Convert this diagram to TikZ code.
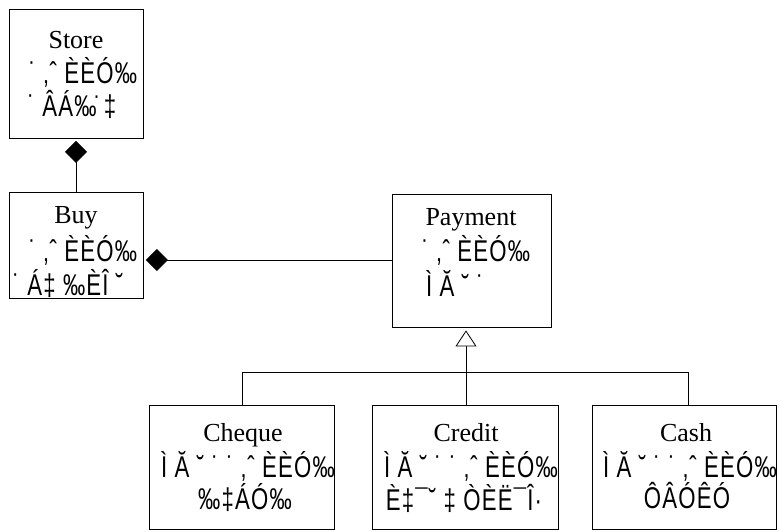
\documentclass[tikz,border=0pt]{standalone}
\usepackage{fontspec}
\setmainfont{Liberation Serif}
\newfontfamily\garb[FakeStretch=0.74,LetterSpace=4]{Liberation Sans}
\usetikzlibrary{arrows.meta}
\tikzset{
  box/.style={draw, line width=0.8pt, inner sep=0pt},
  ttl/.style={font=\fontsize{26}{26}\selectfont, inner sep=0pt},
  gb/.style={font=\garb\fontsize{30}{30}\selectfont, inner sep=0pt},
  conn/.style={line width=0.8pt},
  dia/.style={{Diamond[length=22pt,width=22pt,fill=black]}-, shorten <=2.5pt},
}
\begin{document}
\begin{tikzpicture}[x=1pt,y=-1pt]
\useasboundingbox (0,0) rectangle (780,531);
% boxes
\node[box, minimum width=134pt, minimum height=129pt] (store) at (76,73.5) {};
\node[box, minimum width=134pt, minimum height=106pt] (buy) at (76,245) {};
\node[box, minimum width=159pt, minimum height=133pt] (pay) at (471.5,260.5) {};
\node[box, minimum width=185pt, minimum height=124pt] (cheque) at (241.5,467) {};
\node[box, minimum width=186pt, minimum height=124pt] (credit) at (465,467) {};
\node[box, minimum width=184pt, minimum height=124pt] (cash) at (684,467) {};
% texts
\node[ttl] (t1) at (76,40) {Store};
\node[gb] (t1a) at (83,72) {˙ ‚ˆ ÈÈÓ‰};
\node[gb] (t1b) at (72,104) {˙ ÂÁ‰̇ ‡};
\node[ttl] (t2) at (76,218) {Buy};
\node[gb] (t2a) at (83,250) {˙ ‚ˆ ÈÈÓ‰};
\node[gb] (t2b) at (68,283) {˙ Á‡ ‰ÈÎ ˘};
\node[ttl] (t3) at (471,220) {Payment};
\node[gb] (t3a) at (476,250) {˙ ‚ˆ ÈÈÓ‰};
\node[gb] (t3b) at (455,283) {Ì Ă ˘ ˙};
\node[ttl] (t4) at (243,435) {Cheque};
\node[gb] (t4a) at (248,466) {Ì Ă ˘ ˙ ˙ ‚ˆ ÈÈÓ‰};
\node[gb] (t4b) at (245,498) {‰‡ÁÓ‰};
\node[ttl] (t5) at (466,433) {Credit};
\node[gb] (t5a) at (471,466) {Ì Ă ˘ ˙ ˙ ‚ˆ ÈÈÓ‰};
\node[gb] (t5b) at (464,498) {È‡¯˘ ‡ ÒÈË¯Î·};
\node[ttl] (t6) at (686,433) {Cash};
\node[gb] (t6a) at (690,466) {Ì Ă ˘ ˙ ˙ ‚ˆ ÈÈÓ‰};
\node[gb] (t6b) at (687,496) {ÔÂÓÊÓ};
% connectors
\draw[conn, dia] (store.south) -- (buy.north);
\draw[conn, dia] (buy.east |- 0,260) coordinate (be) -- (pay.west |- be);
\coordinate (jn) at (466,372);
\draw[conn, -{Triangle[open,length=16pt,width=21pt,fill=white]}, shorten >=3pt] (jn) -- (pay.south -| jn);
\draw[conn] (cheque.north -| 242,0) -- (242,372) -- (688,372) -- (cash.north -| 688,0);
\draw[conn] (credit.north -| jn) -- (jn);
\end{tikzpicture}
\end{document}
